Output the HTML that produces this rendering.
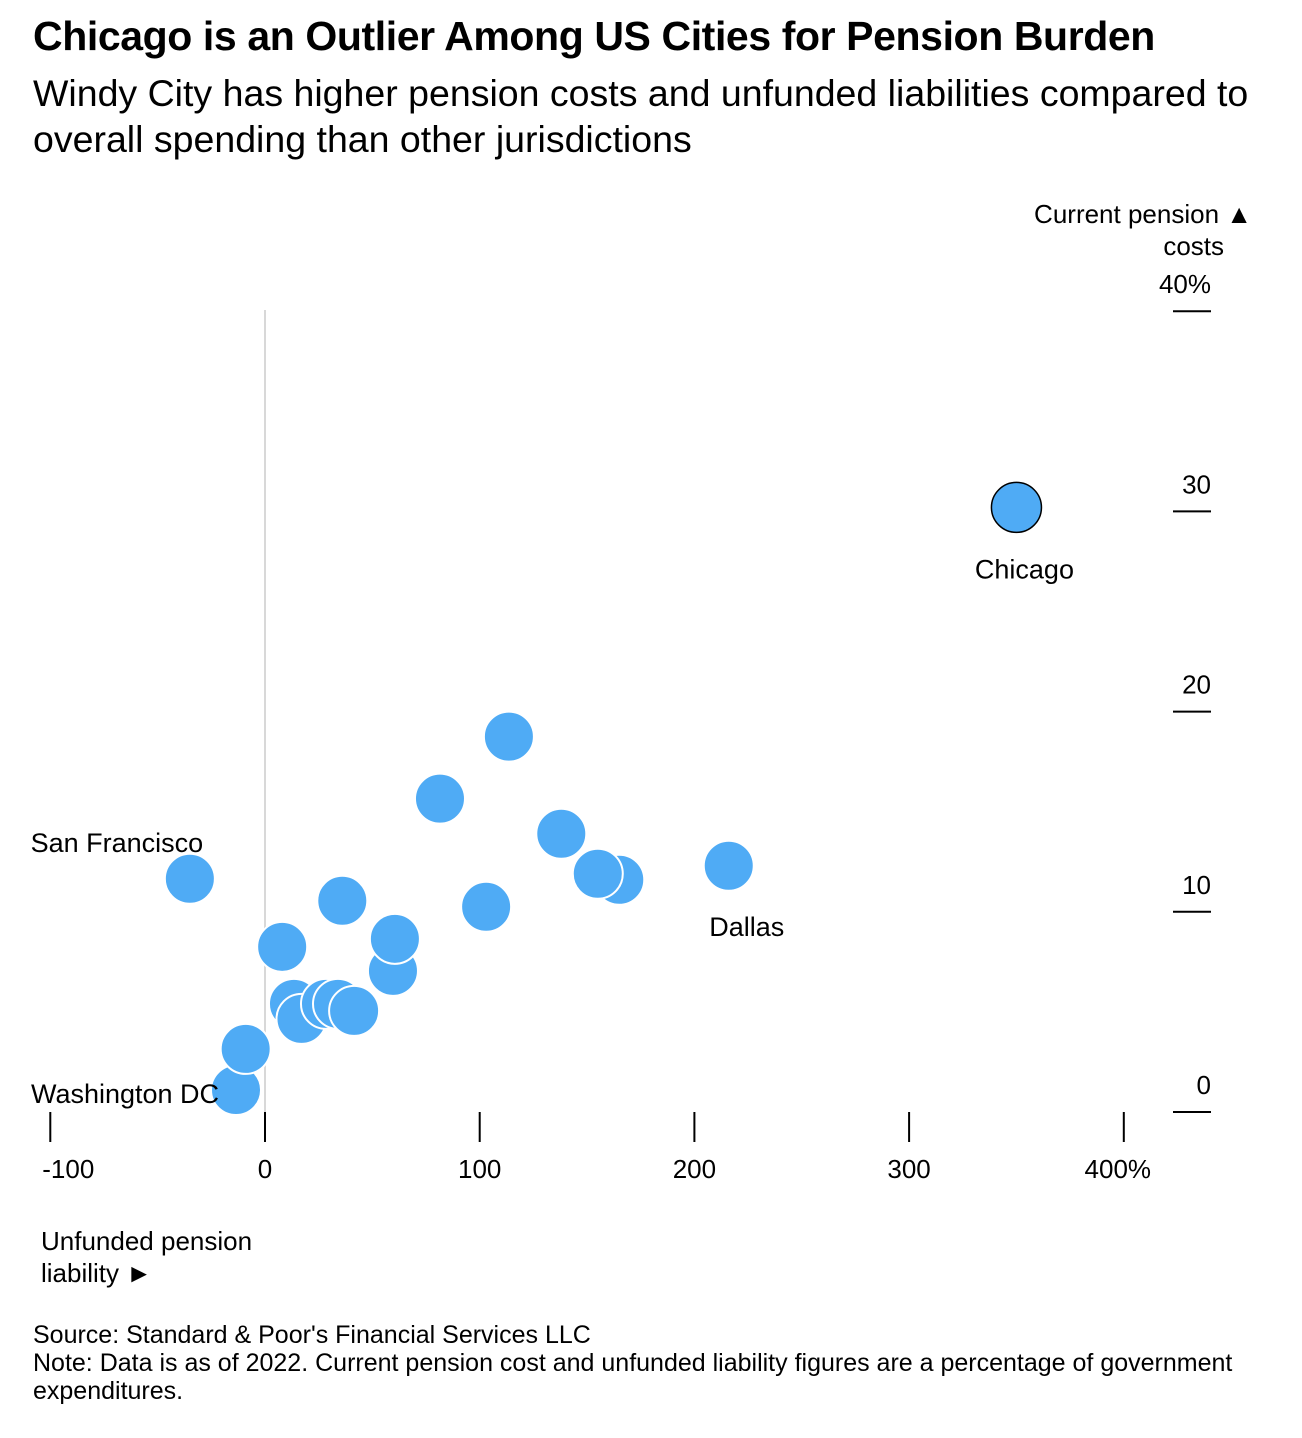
<!DOCTYPE html>
<html><head><meta charset="utf-8"><style>
body{margin:0;background:#fff;width:1302px;height:1438px;overflow:hidden;font-family:"Liberation Sans",Arial,sans-serif;color:#000}
.t{position:absolute;left:33px;top:13px;font-size:41px;font-weight:bold;letter-spacing:-0.4px}
.s{position:absolute;left:33px;top:70px;font-size:37.5px;line-height:46px;width:1250px}
.f{position:absolute;left:33px;top:1321px;font-size:25px;line-height:28px;width:1240px}
</style></head><body>
<div class="t">Chicago is an Outlier Among US Cities for Pension Burden</div>
<div class="s">Windy City has higher pension costs and unfunded liabilities compared to overall spending than other jurisdictions</div>
<svg id="c" width="1302" height="1438" style="position:absolute;left:0;top:0"></svg>
<div class="f">Source: Standard &amp; Poor's Financial Services LLC<br>Note: Data is as of 2022. Current pension cost and unfunded liability figures are a percentage of government expenditures.</div>
<script>
const names=["Chicago","A","B","C","D","E","Dallas","San Francisco","F","G","H","I","J","K","L","M","N","O","P","Washington DC"];
const liability=[350,113.6,81.5,138,155,165,216,-35,103,36,60.5,59.6,8,41.5,34,28.4,17,13.5,-9,-13.5];
const pension=[30.2,18.75,15.65,13.9,11.9,11.6,12.3,11.65,10.25,10.55,8.65,7.05,8.25,5.05,5.4,5.4,4.65,5.4,3.15,1.1];
const xTicks=[-100,0,100,200,300,400];
const xTickLabels=["-100","0","100","200","300","400%"];
const yTicks=[0,10,20,30,40];
const yTickLabels=["0","10","20","30","40%"];
const NS="http://www.w3.org/2000/svg";
const svg=document.getElementById('c');
const X=v=>265+v*2.147;
const Y=v=>1112-v*20.02;
function el(t,a,txt){const e=document.createElementNS(NS,t);for(const k in a)e.setAttribute(k,a[k]);if(txt!==undefined)e.textContent=txt;svg.appendChild(e);return e;}
let z=el('line',{x1:X(0),x2:X(0),y1:310,y2:1140,stroke:'#d8d8d8','stroke-width':2});


xTicks.forEach((v,i)=>{
 let l=el('line',{x1:X(v),x2:X(v),y1:1112,y2:1142,stroke:'#000','stroke-width':2});
 
 
 let t=el('text',{x:X(v)+(i==xTicks.length-1?-6:(i==0?18:0)),y:1178,'font-size':26,'text-anchor':'middle'},xTickLabels[i]);
 
 
});
yTicks.forEach((v,i)=>{
 let l=el('line',{x1:1173,x2:1211,y1:Y(v),y2:Y(v),stroke:'#000','stroke-width':2});
 
 
 let t=el('text',{x:1211,y:Y(v)-18,'font-size':26,'text-anchor':'end'},yTickLabels[i]);
 
 
});
let yt=el('text',{x:1252,y:223,'font-size':26,'text-anchor':'end'},"Current pension ▲");


let yt2=el('text',{x:1224,y:255,'font-size':26,'text-anchor':'end'},"costs");


let xt=el('text',{x:41,y:1250,'font-size':26},"Unfunded pension");


let xt2=el('text',{x:41,y:1282,'font-size':26},"liability ►");


for(let i=names.length-1;i>=0;i--){
 let c=el('circle',{cx:X(liability[i]),cy:Y(pension[i]),r:25,fill:'#4fabf5',stroke:i==0?'#000':'#fff','stroke-width':i==0?1.5:2});
 
 
}
const lbl=[[0,8,71,'middle'],[6,18,70,'middle'],[7,-73,-27,'middle'],[19,-111,13,'middle']];
lbl.forEach(([i,dx,dy,a])=>{
 let t=el('text',{x:X(liability[i])+dx,y:Y(pension[i])+dy,'font-size':27,'text-anchor':a},names[i]);
 
 
});
</script>
</body></html>
